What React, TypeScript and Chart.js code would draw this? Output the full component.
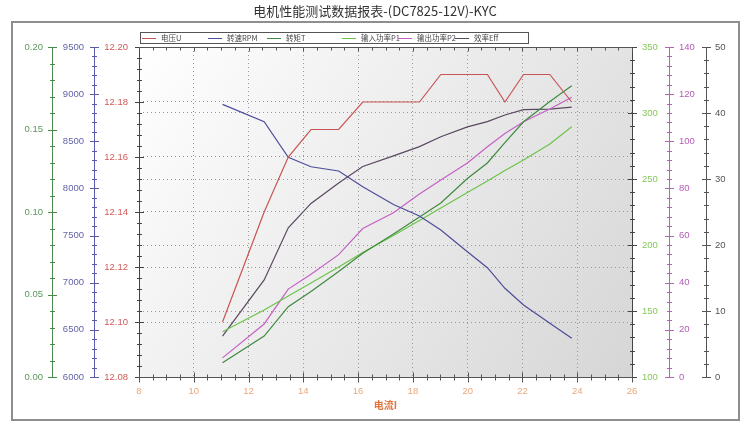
import React, { useEffect, useRef } from "react";
import { Chart, registerables } from "chart.js";
Chart.register(...registerables);

// ---- data ----
const CURRENT = [11.05, 12.57, 13.45, 14.28, 15.29, 16.17, 17.29, 18.24, 19.02, 19.99, 20.72, 21.36, 22.04, 23.0, 23.8];
const VOLTAGE = [12.10, 12.14, 12.16, 12.17, 12.17, 12.18, 12.18, 12.18, 12.19, 12.19, 12.19, 12.18, 12.19, 12.19, 12.18];
const RPM = [8892, 8708, 8330, 8230, 8185, 8018, 7830, 7707, 7559, 7329, 7159, 6941, 6764, 6570, 6410];
const TORQUE = [0.0087, 0.0248, 0.0426, 0.0518, 0.0639, 0.075, 0.0867, 0.097, 0.1055, 0.1203, 0.1297, 0.1421, 0.1547, 0.167, 0.1765];
const P_IN = [134.3, 150.8, 161.4, 171.2, 183.3, 194.3, 207.2, 218.6, 228, 239.8, 248.5, 256.4, 264.4, 276.5, 289.6];
const P_OUT = [8.1, 22.5, 37.3, 43.6, 51.9, 63.0, 69.7, 77.6, 83.6, 90.8, 97.7, 103.3, 108.3, 113.7, 118.7];
const EFF = [6.2, 14.7, 22.6, 26.3, 29.4, 31.9, 33.5, 34.9, 36.4, 37.9, 38.7, 39.7, 40.5, 40.6, 40.9];

const SERIES_LABELS = ["电压U", "转速RPM", "转矩T", "输入功率P1", "输出功率P2", "效率Eff"];
const TITLE = "电机性能测试数据报表-(DC7825-12V)-KYC";
const X_TITLE = "电流I";

// tick labels
const X_TICKS = [8, 10, 12, 14, 16, 18, 20, 22, 24, 26];
const U_TICKS = [12.08, 12.10, 12.12, 12.14, 12.16, 12.18, 12.20];
const RPM_TICKS = [6000, 6500, 7000, 7500, 8000, 8500, 9000, 9500];
const T_TICKS = [0, 0.05, 0.10, 0.15, 0.20];
const P1_TICKS = [100, 150, 200, 250, 300, 350];
const P2_TICKS = [0, 20, 40, 60, 80, 100, 120, 140];
const EFF_TICKS = [0, 10, 20, 30, 40, 50];

// ---- styles ----
const COL = {
  u: "#c85555",
  rpm: "#4d4d9a",
  t: "#3f8a3f",
  p1: "#6cc44a",
  p2: "#c461c4",
  eff: "#5a4860",
};
const LABEL_FONT = { family: "'Liberation Sans', Arial, sans-serif", size: 9.5 };
const LEGEND_OFFS = [3, 69, 128, 203, 259, 316];

type AxisDeco = { line: string; minor: number; side: "left" | "right" };
const AXIS_DECO: Record<string, AxisDeco> = {
  yU: { line: "#444444", minor: 5, side: "left" },
  yRPM: { line: "#5a5aaa", minor: 5, side: "left" },
  yT: { line: "#4a8a4a", minor: 5, side: "left" },
  yP1: { line: "#444444", minor: 5, side: "right" },
  yP2: { line: "#b067b0", minor: 5, side: "right" },
  yEff: { line: "#555555", minor: 5, side: "right" },
};

function setTicks(arr: number[]) {
  return (s: any) => {
    s.ticks = arr.map((v) => ({ value: v }));
  };
}

function yAxis(
  pos: "left" | "right",
  min: number,
  max: number,
  ticks: number[],
  color: string,
  width: number,
  pad: number,
  digits: number,
  grid: boolean
) {
  return {
    type: "linear",
    position: pos,
    min,
    max,
    afterBuildTicks: setTicks(ticks),
    afterFit: (s: any) => {
      s.width = width;
    },
    border: { display: false, dash: [1, 3] },
    grid: {
      display: grid,
      drawOnChartArea: grid,
      drawTicks: false,
      color: "#999999",
      lineWidth: 1,
    },
    ticks: {
      color,
      font: LABEL_FONT,
      padding: pad,
      callback: (v: any) => Number(v).toFixed(digits),
    },
  };
}

const decoPlugin = {
  id: "deco",
  beforeDraw(chart: any) {
    const { ctx, chartArea: a } = chart;
    ctx.save();
    ctx.fillStyle = "#ffffff";
    ctx.fillRect(0, 0, chart.width, chart.height);
    const g = ctx.createLinearGradient(a.left, a.top, a.right, a.bottom);
    g.addColorStop(0, "#ffffff");
    g.addColorStop(1, "#d6d6d6");
    ctx.fillStyle = g;
    ctx.fillRect(a.left, a.top, a.right - a.left, a.bottom - a.top);
    ctx.strokeStyle = "#8e8e8e";
    ctx.lineWidth = 2;
    ctx.strokeRect(12, 22, 727, 398);
    ctx.restore();
  },
  afterDraw(chart: any) {
    const { ctx, chartArea: a } = chart;
    ctx.save();
    ctx.lineWidth = 1;
    // y axes
    Object.keys(AXIS_DECO).forEach((id) => {
      const s = chart.scales[id];
      const d = AXIS_DECO[id];
      const x = Math.round(d.side === "left" ? s.right : s.left) + 0.5;
      ctx.strokeStyle = d.line;
      ctx.beginPath();
      ctx.moveTo(x, s.top);
      ctx.lineTo(x, s.bottom);
      const tv = s.ticks.map((t: any) => t.value);
      tv.forEach((v: number, i: number) => {
        const py = Math.round(s.getPixelForValue(v)) + 0.5;
        ctx.moveTo(x - 4.5, py);
        ctx.lineTo(x + 4.5, py);
        if (i < tv.length - 1) {
          for (let k = 1; k < d.minor; k++) {
            const mv = v + ((tv[i + 1] - v) * k) / d.minor;
            const my = Math.round(s.getPixelForValue(mv)) + 0.5;
            ctx.moveTo(x - 2.5, my);
            ctx.lineTo(x + 2.5, my);
          }
        }
      });
      ctx.stroke();
    });
    // x axis (bottom) and mirrored ticks at top
    const xs = chart.scales.x;
    const xv = xs.ticks.map((t: any) => t.value);
    const yb = Math.round(xs.top) + 0.5;
    const yt = Math.round(a.top) + 0.5;
    ctx.strokeStyle = "#555555";
    ctx.beginPath();
    ctx.moveTo(a.left, yb);
    ctx.lineTo(a.right, yb);
    ctx.moveTo(a.left, yt);
    ctx.lineTo(a.right, yt);
    xv.forEach((v: number, i: number) => {
      const px = Math.round(xs.getPixelForValue(v)) + 0.5;
      ctx.moveTo(px, yb - 5);
      ctx.lineTo(px, yb + 5);
      ctx.moveTo(px, yt);
      ctx.lineTo(px, yt + 4);
      if (i < xv.length - 1) {
        for (let k = 1; k < 4; k++) {
          const mx = Math.round(xs.getPixelForValue(v + ((xv[i + 1] - v) * k) / 4)) + 0.5;
          ctx.moveTo(mx, yb - 3);
          ctx.lineTo(mx, yb + 3);
          ctx.moveTo(mx, yt);
          ctx.lineTo(mx, yt + 3);
        }
      }
    });
    ctx.stroke();

    // legend
    const L = a.left;
    const top = 32.5;
    ctx.fillStyle = "#ffffff";
    ctx.fillRect(L + 1.5, top, 388, 11);
    ctx.strokeStyle = "#555555";
    ctx.strokeRect(L + 1.5, top, 388, 11);
    ctx.font = "7.5px 'Noto Sans CJK SC', sans-serif";
    ctx.textBaseline = "middle";
    ctx.textAlign = "left";
    chart.data.datasets.forEach((ds: any, i: number) => {
      const x0 = L + LEGEND_OFFS[i];
      const cy = top + 5.5;
      ctx.strokeStyle = ds.borderColor;
      ctx.beginPath();
      ctx.moveTo(x0, Math.round(cy) + 0.5);
      ctx.lineTo(x0 + 14, Math.round(cy) + 0.5);
      ctx.stroke();
      ctx.fillStyle = "#444444";
      ctx.fillText(ds.label, x0 + 19, cy + 0.5);
    });
    ctx.restore();
  },
};

function pts(ys: number[]) {
  return CURRENT.map((x, i) => ({ x, y: ys[i] }));
}

export default function App() {
  const ref = useRef<HTMLCanvasElement>(null);
  useEffect(() => {
    if (!ref.current) return;
    const mk = (i: number, data: number[], color: string, axis: string) => ({
      label: SERIES_LABELS[i],
      data: pts(data),
      borderColor: color,
      backgroundColor: color,
      borderWidth: 1.2,
      pointRadius: 0,
      tension: 0,
      fill: false,
      yAxisID: axis,
    });
    const chart = new Chart(ref.current, {
      type: "line",
      data: {
        datasets: [
          mk(0, VOLTAGE, COL.u, "yU"),
          mk(1, RPM, COL.rpm, "yRPM"),
          mk(2, TORQUE, COL.t, "yT"),
          mk(3, P_IN, COL.p1, "yP1"),
          mk(4, P_OUT, COL.p2, "yP2"),
          mk(5, EFF, COL.eff, "yEff"),
        ],
      },
      options: {
        animation: false,
        responsive: false,
        devicePixelRatio: 1,
        layout: { padding: { left: 12, right: 12, top: 0, bottom: 8 } },
        plugins: {
          legend: { display: false },
          tooltip: { enabled: false },
          title: {
            display: true,
            text: TITLE,
            color: "#333333",
            font: { family: "'Noto Sans CJK SC', sans-serif", size: 13, weight: "normal" },
            padding: { top: 3, bottom: 28.4 },
          },
        },
        scales: {
          x: {
            type: "linear",
            min: 8,
            max: 26,
            afterBuildTicks: setTicks(X_TICKS),
            afterFit: (s: any) => {
              s.height = 43;
            },
            border: { display: false, dash: [1, 3] },
            grid: { display: true, drawTicks: false, color: "#999999" },
            ticks: { color: "#e9a679", font: LABEL_FONT, padding: 9, maxRotation: 0 },
            title: {
              display: true,
              text: X_TITLE,
              color: "#e0743a",
              font: { family: "'Noto Sans CJK SC', sans-serif", size: 10, weight: "bold" },
              padding: { top: 0, bottom: 9 },
            },
          },
          yU: yAxis("left", 12.08, 12.2, U_TICKS, "#d05a5a", 45, 11, 2, true),
          yRPM: yAxis("left", 6000, 9500, RPM_TICKS, "#6363a8", 42, 10, 0, false),
          yT: yAxis("left", 0, 0.2, T_TICKS, "#5b975b", 40, 9, 2, false),
          yP1: yAxis("right", 100, 350, P1_TICKS, "#86c85a", 37, 10, 0, true),
          yP2: yAxis("right", 0, 140, P2_TICKS, "#b45cb4", 37, 10, 0, false),
          yEff: yAxis("right", 0, 50, EFF_TICKS, "#555555", 32, 9, 0, false),
        },
      } as any,
      plugins: [decoPlugin],
    });
    return () => chart.destroy();
  }, []);
  return (
    <div style={{ position: "absolute", left: 0, top: 0, width: 750, height: 428 }}>
      <canvas ref={ref} width={750} height={428} style={{ display: "block" }} />
    </div>
  );
}
